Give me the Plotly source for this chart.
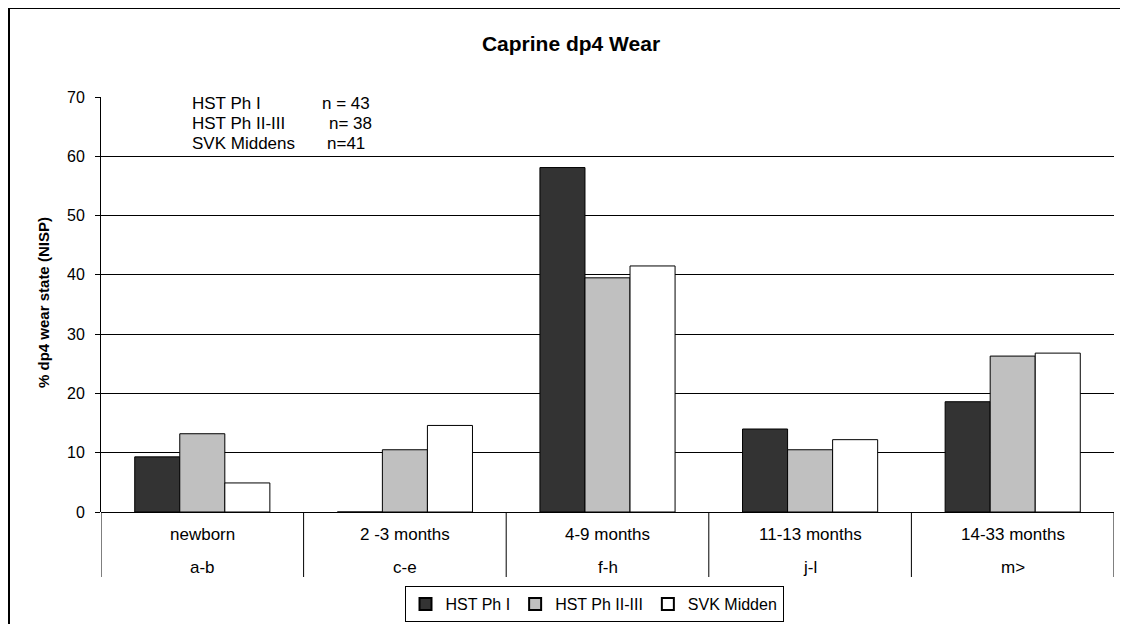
import plotly.graph_objects as go

categories = ["newborn", "2 -3 months", "4-9 months", "11-13 months", "14-33 months"]
wear_codes = ["a-b", "c-e", "f-h", "j-l", "m>"]
series_names = ["HST Ph I", "HST Ph II-III", "SVK Midden"]
hst_ph1 = [9.3, 0.0, 58.1, 14.0, 18.6]
hst_ph2_3 = [13.2, 10.5, 39.5, 10.5, 26.3]
svk_midden = [4.9, 14.6, 41.5, 12.2, 26.8]
colors = ["#333333", "#C0C0C0", "#FFFFFF"]
sample_labels = ["HST Ph I", "HST Ph II-III", "SVK Middens"]
sample_n = ["n = 43", "n= 38", "n=41"]
y_ticks = [0, 10, 20, 30, 40, 50, 60, 70]

# page body has an 8px margin; work in screen coordinates and convert
OFF = 8
W, H = 1120, 616
L, T = 101 - OFF, 97 - OFF
R = W - (1114 - OFF)
B = H - (512 - OFF)
pw, ph = W - L - R, H - T - B


def px(xs):
    return (xs - OFF - L) / pw


def py(ys):
    return (H - B - (ys - OFF)) / ph


FONT = "Liberation Sans, Arial, sans-serif"
xpos = list(range(len(categories)))

fig = go.Figure()
for name, vals, col in zip(series_names, [hst_ph1, hst_ph2_3, svk_midden], colors):
    fig.add_trace(go.Bar(x=xpos, y=vals, name=name,
                         marker=dict(color=col, line=dict(color="black", width=1))))

fig.update_layout(
    width=W, height=H,
    margin=dict(l=L, r=R, t=T, b=B, pad=0, autoexpand=False),
    paper_bgcolor="white", plot_bgcolor="white",
    barmode="group", bargap=0.333, bargroupgap=0,
    font=dict(family=FONT, size=16, color="black"),
    title=dict(text="<b>Caprine dp4 Wear</b>", x=(571 - OFF) / W, xref="container",
               xanchor="center", y=1 - (44 - OFF) / H, yref="container", yanchor="middle",
               font=dict(size=21, family=FONT)),
    showlegend=True,
    legend=dict(orientation="h", x=px(594), xanchor="center", y=py(604), yanchor="middle",
                bordercolor="black", borderwidth=1, bgcolor="white",
                font=dict(size=16, family=FONT), itemwidth=30, tracegroupgap=0,
                itemsizing="constant"),
    xaxis=dict(range=[-0.5, len(categories) - 0.5], showticklabels=False, showgrid=False,
               zeroline=False, showline=False, ticks="", fixedrange=True),
    yaxis=dict(range=[0, 70], tickvals=y_ticks, showgrid=True, gridcolor="black", gridwidth=1,
               zeroline=True, zerolinecolor="black", zerolinewidth=1,
               showline=True, linecolor="black", linewidth=1,
               ticks="outside", ticklen=5, tickcolor="black", ticklabelstandoff=7,
               tickfont=dict(size=16, family=FONT)),
)

# category labels and separators
for i, (c, w) in enumerate(zip(categories, wear_codes)):
    fig.add_annotation(x=i, y=py(534), xref="x", yref="paper", text=c, showarrow=False,
                       font=dict(size=17, family=FONT), yanchor="middle")
    fig.add_annotation(x=i, y=py(567), xref="x", yref="paper", text=w, showarrow=False,
                       font=dict(size=17, family=FONT), yanchor="middle")
for i in range(len(categories) + 1):
    fig.add_shape(type="line", xref="x", yref="paper", x0=i - 0.5, x1=i - 0.5,
                  y0=0, y1=py(577), line=dict(color="black", width=1))

# y-axis title
fig.add_annotation(x=px(43), y=py(303), xref="paper", yref="paper",
                   text="<b>% dp4 wear state (NISP)</b>", textangle=-90, showarrow=False,
                   font=dict(size=15, family=FONT),
                   xanchor="center", yanchor="middle")

# sample size notes
n_x = [320, 327, 325]
for k, (lab, n) in enumerate(zip(sample_labels, sample_n)):
    yy = py(104 + k * 19.5)
    fig.add_annotation(x=px(190), y=yy, xref="paper", yref="paper", text=lab,
                       showarrow=False, xanchor="left", yanchor="middle",
                       font=dict(size=17, family=FONT))
    fig.add_annotation(x=px(n_x[k]), y=yy, xref="paper", yref="paper", text=n,
                       showarrow=False, xanchor="left", yanchor="middle",
                       font=dict(size=17, family=FONT))

# outer border (top and left edges visible in the frame)
fig.add_shape(type="line", xref="paper", yref="paper", x0=px(8), x1=px(1160),
              y0=py(8), y1=py(8), line=dict(color="black", width=2), layer="below")
fig.add_shape(type="line", xref="paper", yref="paper", x0=px(9), x1=px(9),
              y0=py(8), y1=py(660), line=dict(color="black", width=2), layer="below")

fig.write_html("out.html")
